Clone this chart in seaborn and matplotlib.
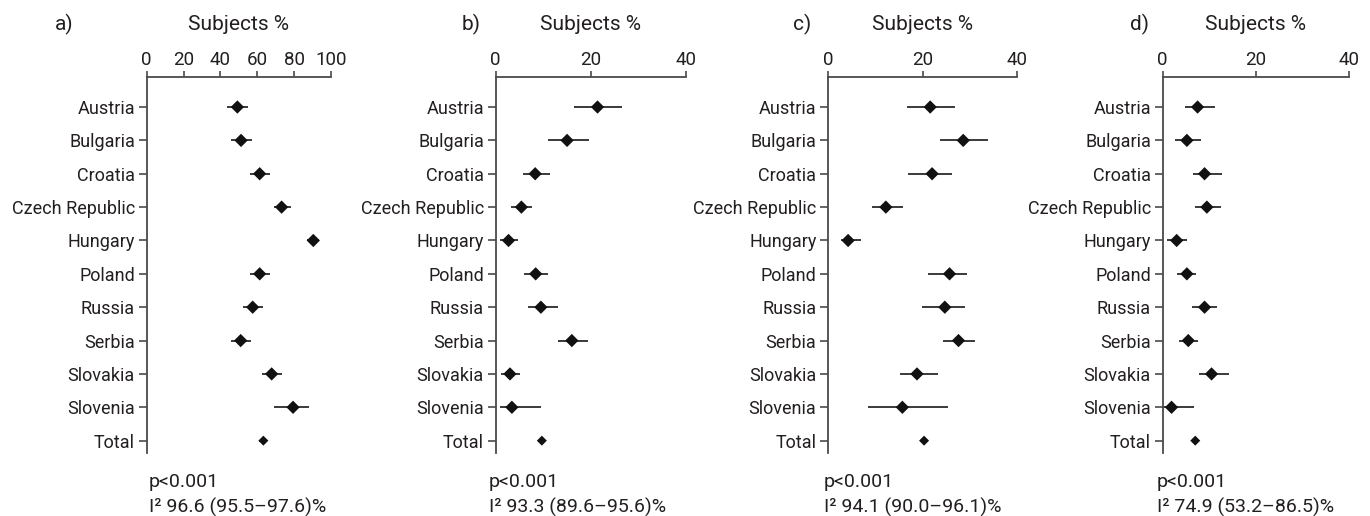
import numpy as np
import pandas as pd
import matplotlib
matplotlib.use("Agg")
import matplotlib.pyplot as plt
import seaborn as sns

sns.set_style("white")
plt.rcParams["font.family"] = ["Roboto", "DejaVu Sans"]

countries = ["Austria", "Bulgaria", "Croatia", "Czech Republic", "Hungary",
             "Poland", "Russia", "Serbia", "Slovakia", "Slovenia", "Total"]

panel_labels = ["a)", "b)", "c)", "d)"]
panel_xmax = [100, 40, 40, 40]
panel_xticks = [[0, 20, 40, 60, 80, 100], [0, 20, 40], [0, 20, 40], [0, 20, 40]]
panel_stats = ["I\u00b2 96.6 (95.5\u201397.6)%", "I\u00b2 93.3 (89.6\u201395.6)%",
               "I\u00b2 94.1 (90.0\u201396.1)%", "I\u00b2 74.9 (53.2\u201386.5)%"]
p_text = "p<0.001"

est_a = [49.2, 51.2, 61.3, 73.2, 90.4, 61.3, 57.5, 51.0, 67.8, 79.4, 63.3]
lo_a = [43.8, 45.9, 55.9, 69.3, 86.8, 55.9, 52.1, 45.6, 62.6, 69.1, 61.0]
hi_a = [54.8, 57.0, 66.9, 78.1, 93.3, 66.9, 63.1, 56.4, 73.4, 88.1, 65.5]

est_b = [21.4, 15.0, 8.3, 5.4, 2.7, 8.4, 9.5, 16.0, 3.0, 3.4, 9.7]
lo_b = [16.5, 11.0, 5.7, 3.3, 0.8, 5.9, 6.8, 13.1, 1.2, 1.0, 9.0]
hi_b = [26.5, 19.7, 11.5, 7.6, 4.6, 11.0, 13.0, 19.4, 5.2, 9.5, 10.4]

est_c = [21.6, 28.6, 22.0, 12.2, 4.2, 25.7, 24.7, 27.6, 18.8, 15.7, 20.3]
lo_c = [16.6, 23.7, 17.0, 9.2, 2.7, 21.1, 19.9, 24.3, 15.2, 8.4, 19.5]
hi_c = [26.9, 33.9, 26.2, 15.8, 6.9, 29.5, 29.0, 31.2, 23.2, 25.3, 21.1]

est_d = [7.5, 5.2, 9.0, 9.5, 3.0, 5.2, 9.0, 5.5, 10.5, 1.9, 7.0]
lo_d = [4.7, 2.7, 6.5, 7.0, 1.0, 3.0, 6.2, 3.4, 7.8, 0.0, 6.4]
hi_d = [11.2, 8.2, 12.7, 12.5, 5.2, 7.2, 11.7, 7.5, 14.2, 6.8, 7.6]

panels = [(est_a, lo_a, hi_a), (est_b, lo_b, hi_b), (est_c, lo_c, hi_c), (est_d, lo_d, hi_d)]

W, H = 1370, 516
fig = plt.figure(figsize=(W / 100, H / 100), dpi=100)

ax_left_px = [146.7, 495.7, 828.3, 1162.7]
ax_width_px = [184.3, 190.3, 188.7, 186.0]
ax_top_px, ax_bot_px = 77, 453
label_x_px = [55, 462, 793, 1130]
text_x_px = [149, 489, 824, 1157]

txt_col = "#231f20"
line_col = "#2b2b2b"
spine_col = "#4a4a4a"

for i, (est, lo, hi) in enumerate(panels):
    ax = fig.add_axes([ax_left_px[i] / W, (H - ax_bot_px) / H,
                       ax_width_px[i] / W, (ax_bot_px - ax_top_px) / H])
    df = pd.DataFrame({"country": countries, "est": est, "lo": lo, "hi": hi,
                       "kind": ["country"] * 10 + ["total"]})
    ax.hlines(y=df["country"], xmin=df["lo"], xmax=df["hi"], color=line_col,
              linewidth=1.3, zorder=2)
    sns.scatterplot(data=df, x="est", y="country", size="kind",
                    sizes={"country": 46, "total": 26}, marker="D",
                    color="#111111", edgecolor="none", legend=False, ax=ax, zorder=3)
    ax.set_xlim(0, panel_xmax[i])
    ax.set_ylim(10.37, -0.9)
    ax.set_xticks(panel_xticks[i])
    ax.xaxis.tick_top()
    ax.xaxis.set_label_position("top")
    ax.set_xlabel("Subjects %", fontsize=15, color=txt_col, labelpad=15)
    ax.set_ylabel("")
    for s in ["right", "bottom"]:
        ax.spines[s].set_visible(False)
    for s in ["top", "left"]:
        ax.spines[s].set_color(spine_col)
        ax.spines[s].set_linewidth(1.3)
    ax.tick_params(axis="x", which="both", top=True, bottom=False, direction="out",
                   length=4, width=1.2, color=spine_col, pad=1.8,
                   labelsize=13.5, labelcolor=txt_col)
    ax.tick_params(axis="y", left=True, direction="out", length=5.5, width=1.2,
                   color=spine_col, pad=3, labelsize=13, labelcolor=txt_col)
    ax.set_facecolor("none")

    fig.text(label_x_px[i] / W, 1 - 24 / H, panel_labels[i], fontsize=15,
             color=txt_col, ha="left", va="center")
    fig.text(text_x_px[i] / W, 1 - 487 / H, p_text, fontsize=14, color=txt_col,
             ha="left", va="baseline")
    fig.text(text_x_px[i] / W, 1 - 513 / H, panel_stats[i], fontsize=14,
             color=txt_col, ha="left", va="baseline")

fig.savefig("out.png", dpi=100)
